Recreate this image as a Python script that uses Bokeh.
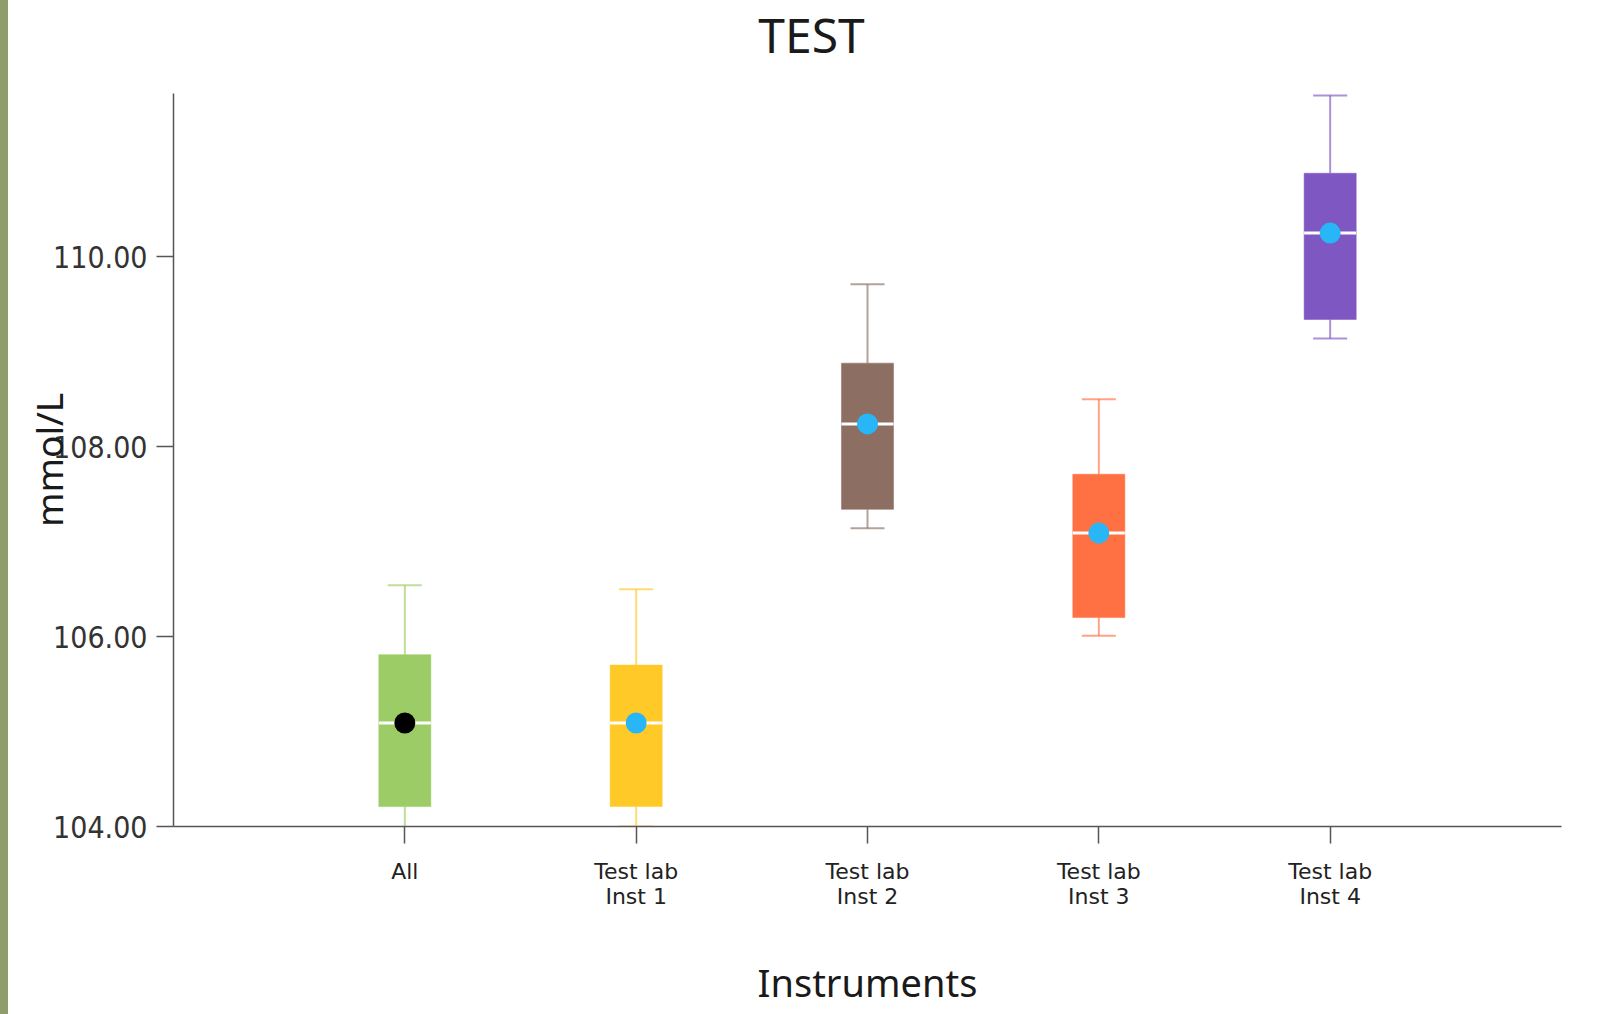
from bokeh.plotting import figure
from bokeh.layouts import column
from bokeh.models import ColumnDataSource, FactorRange, Range1d, FixedTicker, PrintfTickFormatter, Label
from bokeh.embed import file_html
from bokeh.resources import INLINE

title_text = "TEST"
categories = ["All", "Test lab\nInst 1", "Test lab\nInst 2", "Test lab\nInst 3", "Test lab\nInst 4"]
whisker_low = [103.90, 104.00, 107.14, 106.01, 109.14]
q1 = [104.21, 104.21, 107.34, 106.20, 109.34]
median = [105.09, 105.09, 108.24, 107.09, 110.25]
q3 = [105.81, 105.70, 108.88, 107.71, 110.88]
whisker_high = [106.54, 106.50, 109.71, 108.50, 111.70]
mean = [105.09, 105.09, 108.24, 107.09, 110.25]
box_colors = ["#9ccc65", "#ffca28", "#8d6e63", "#ff7043", "#7e57c2"]
dot_colors = ["#000000", "#29b6f6", "#29b6f6", "#29b6f6", "#29b6f6"]
y_ticks = [104, 106, 108, 110]
y_view = (104, 111.72)

src = ColumnDataSource(dict(cat=categories, lo=whisker_low, q1=q1, med=median, q3=q3,
                            hi=whisker_high, mean=mean, color=box_colors, dot=dot_colors))

# --- title strip (its own small svg figure) ---
tf = figure(width=1608, height=93, output_backend="svg", toolbar_location=None,
            x_range=Range1d(0, 1), y_range=Range1d(0, 1),
            x_axis_location=None, y_axis_location=None, min_border=0)
tf.outline_line_color = None
tf.grid.visible = False
tf.add_layout(Label(x=638, y=59, x_units="screen", y_units="screen", text=title_text,
                    text_font="Noto Sans", text_font_size="48px", text_color="#1a1a1a",
                    text_align="center", text_baseline="alphabetic"))

# --- main chart ---
p = figure(width=1608, height=921, output_backend="svg", toolbar_location=None,
           x_range=FactorRange(factors=categories, range_padding=0.5, range_padding_units="absolute"),
           y_range=Range1d(*y_view),
           min_border_left=165, min_border_right=55, min_border_top=0, min_border_bottom=188)
p.outline_line_color = None
p.xgrid.visible = False
p.ygrid.visible = False

# whisker stems
p.segment(x0="cat", y0="q3", x1="cat", y1="hi", source=src, line_color="color", line_alpha=0.65, line_width=2)
p.segment(x0="cat", y0="lo", x1="cat", y1="q1", source=src, line_color="color", line_alpha=0.65, line_width=2)
# caps
p.rect(x="cat", y="hi", width=0.147, height=2, height_units="screen", source=src,
       fill_color="color", fill_alpha=0.65, line_color=None)
p.rect(x="cat", y="lo", width=0.147, height=2, height_units="screen", source=src,
       fill_color="color", fill_alpha=0.65, line_color=None)
# boxes
p.vbar(x="cat", bottom="q1", top="q3", width=0.225, source=src,
       fill_color="color", line_color="color", line_alpha=0.5, line_width=1)
# median
p.rect(x="cat", y="med", width=0.225, height=3, height_units="screen", source=src,
       fill_color="white", line_color=None)
# mean dots
p.scatter(x="cat", y="mean", size=21, source=src, fill_color="dot", line_color=None)

ax_col = "#555555"
for ax in (p.xaxis[0], p.yaxis[0]):
    ax.axis_line_color = ax_col
    ax.axis_line_width = 1.5
    ax.major_tick_line_color = ax_col
    ax.major_tick_line_width = 1.5
    ax.major_tick_out = 17
    ax.major_tick_in = 0
    ax.minor_tick_line_color = None
    ax.axis_label_text_font = "Noto Sans"
    ax.axis_label_text_font_size = "37px"
    ax.axis_label_text_font_style = "normal"
    ax.axis_label_text_color = "#1a1a1a"

p.xaxis.axis_label_text_font_size = "38px"

p.yaxis.ticker = FixedTicker(ticks=y_ticks)
p.yaxis.formatter = PrintfTickFormatter(format="%.2f")
p.yaxis.major_label_text_font = "DejaVu Sans Condensed"
p.yaxis.major_label_text_font_size = "30px"
p.yaxis.major_label_text_color = "#333333"
p.yaxis.major_label_standoff = 9
p.yaxis.axis_label = "mmol/L"
p.yaxis.axis_label_standoff = -24

p.xaxis.major_label_text_font = "DejaVu Sans"
p.xaxis.major_label_text_font_size = "22px"
p.xaxis.major_label_text_color = "#222222"
p.xaxis.major_label_standoff = 15
p.xaxis.major_label_text_line_height = 1.0
p.xaxis.axis_label = "Instruments"
p.xaxis.axis_label_standoff = 44

layout = column(tf, p, spacing=0)
layout.styles = {"margin-left": "8px", "box-shadow": "-8px 0 0 0 #8f9d6c"}

open("out.html", "w").write(file_html(layout, INLINE))
